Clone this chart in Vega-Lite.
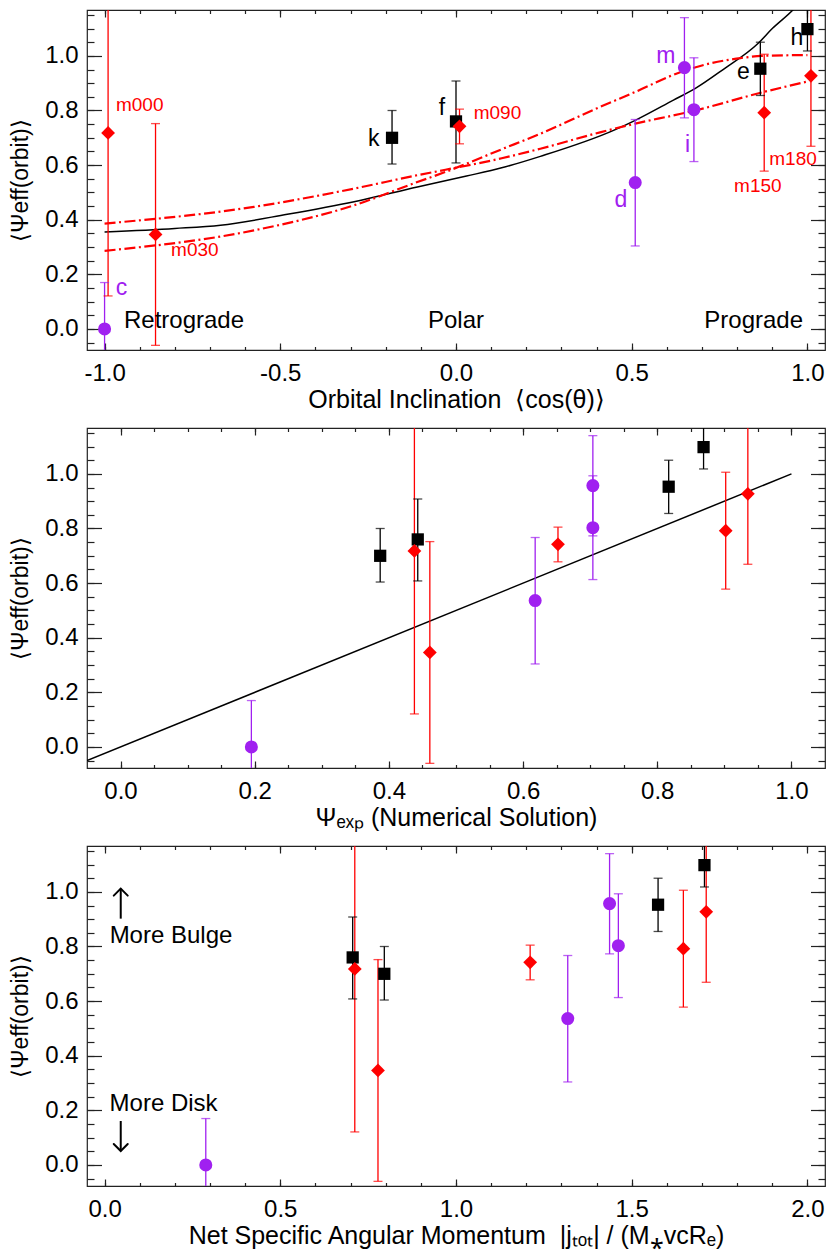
{
  "$schema": "https://vega.github.io/schema/vega-lite/v6.json",
  "padding": {"top": 8, "left": 9, "right": 4, "bottom": 4},
  "bounds": "flush",
  "spacing": 78,
  "config": {
    "font": "Liberation Sans",
    "view": {"stroke": "#222222", "strokeWidth": 1.2},
    "axis": {"domain": false, "grid": false, "labelFont": "Liberation Sans", "labelFontSize": 24, "labelColor": "#000000", "titleFont": "Liberation Sans", "titleFontSize": 23, "titleFontWeight": "normal", "titleColor": "#000000", "tickColor": "#222222", "tickWidth": 1.2, "labelFlush": false, "labelOverlap": false, "labelBound": false},
    "text": {"font": "Liberation Sans"}
  },
  "datasets": {
    "pts": [
      {"name": "k", "group": "A", "cos": -0.182, "psi": 0.70, "lo": 0.604, "hi": 0.80, "psiexp": 0.387, "j": 0.796},
      {"name": "f", "group": "A", "cos": 0.0, "psi": 0.76, "lo": 0.608, "hi": 0.908, "psiexp": 0.443, "j": 0.706},
      {"name": "e", "group": "A", "cos": 0.866, "psi": 0.953, "lo": 0.855, "hi": 1.05, "psiexp": 0.817, "j": 1.575},
      {"name": "h", "group": "A", "cos": 1.0, "psi": 1.098, "lo": 1.018, "hi": 1.18, "psiexp": 0.869, "j": 1.707},
      {"name": "c", "group": "B", "cos": -1.0, "psi": 0.0, "lo": -0.17, "hi": 0.17, "psiexp": 0.195, "j": 0.288},
      {"name": "d", "group": "B", "cos": 0.51, "psi": 0.536, "lo": 0.304, "hi": 0.767, "psiexp": 0.618, "j": 1.318},
      {"name": "m", "group": "B", "cos": 0.65, "psi": 0.957, "lo": 0.773, "hi": 1.14, "psiexp": 0.704, "j": 1.437},
      {"name": "i", "group": "B", "cos": 0.677, "psi": 0.803, "lo": 0.613, "hi": 0.993, "psiexp": 0.704, "j": 1.462},
      {"name": "m000", "group": "C", "cos": -0.99, "psi": 0.718, "lo": 0.121, "hi": 1.315, "psiexp": 0.438, "j": 0.712},
      {"name": "m030", "group": "C", "cos": -0.855, "psi": 0.346, "lo": -0.06, "hi": 0.752, "psiexp": 0.461, "j": 0.778},
      {"name": "m090", "group": "C", "cos": 0.01, "psi": 0.742, "lo": 0.678, "hi": 0.805, "psiexp": 0.652, "j": 1.211},
      {"name": "m150", "group": "C", "cos": 0.877, "psi": 0.792, "lo": 0.578, "hi": 1.006, "psiexp": 0.902, "j": 1.647},
      {"name": "m180", "group": "C", "cos": 1.01, "psi": 0.927, "lo": 0.669, "hi": 1.185, "psiexp": 0.935, "j": 1.712}
    ],
    "curves": [
      {"curve": "model", "x": -1.0, "y": 0.355},
      {"curve": "model", "x": -0.8, "y": 0.368},
      {"curve": "model", "x": -0.67, "y": 0.38},
      {"curve": "model", "x": -0.48, "y": 0.42},
      {"curve": "model", "x": -0.29, "y": 0.466},
      {"curve": "model", "x": -0.11, "y": 0.52},
      {"curve": "model", "x": 0.03, "y": 0.56},
      {"curve": "model", "x": 0.13, "y": 0.59},
      {"curve": "model", "x": 0.24, "y": 0.632},
      {"curve": "model", "x": 0.45, "y": 0.728},
      {"curve": "model", "x": 0.51, "y": 0.764},
      {"curve": "model", "x": 0.62, "y": 0.839},
      {"curve": "model", "x": 0.68, "y": 0.88},
      {"curve": "model", "x": 0.76, "y": 0.95},
      {"curve": "model", "x": 0.86, "y": 1.046},
      {"curve": "model", "x": 0.9, "y": 1.1},
      {"curve": "model", "x": 0.96, "y": 1.17},
      {"curve": "model", "x": 1.0, "y": 1.23},
      {"curve": "fitA", "x": -1.0, "y": 0.386},
      {"curve": "fitA", "x": -0.575, "y": 0.447},
      {"curve": "fitA", "x": -0.29, "y": 0.514},
      {"curve": "fitA", "x": -0.11, "y": 0.563},
      {"curve": "fitA", "x": -0.03, "y": 0.583},
      {"curve": "fitA", "x": 0.13, "y": 0.625},
      {"curve": "fitA", "x": 0.24, "y": 0.66},
      {"curve": "fitA", "x": 0.41, "y": 0.72},
      {"curve": "fitA", "x": 0.51, "y": 0.752},
      {"curve": "fitA", "x": 0.64, "y": 0.788},
      {"curve": "fitA", "x": 0.68, "y": 0.8},
      {"curve": "fitA", "x": 0.87, "y": 0.866},
      {"curve": "fitA", "x": 1.0, "y": 0.906},
      {"curve": "fitB", "x": -1.0, "y": 0.286},
      {"curve": "fitB", "x": -0.575, "y": 0.361},
      {"curve": "fitB", "x": -0.29, "y": 0.453},
      {"curve": "fitB", "x": -0.11, "y": 0.538},
      {"curve": "fitB", "x": -0.03, "y": 0.575},
      {"curve": "fitB", "x": 0.13, "y": 0.658},
      {"curve": "fitB", "x": 0.24, "y": 0.715},
      {"curve": "fitB", "x": 0.41, "y": 0.813},
      {"curve": "fitB", "x": 0.51, "y": 0.868},
      {"curve": "fitB", "x": 0.64, "y": 0.941},
      {"curve": "fitB", "x": 0.7, "y": 0.965},
      {"curve": "fitB", "x": 0.81, "y": 0.992},
      {"curve": "fitB", "x": 0.87, "y": 1.0},
      {"curve": "fitB", "x": 1.0, "y": 1.003}
    ],
    "line2": [{"x": -0.05, "y": -0.05}, {"x": 1.0, "y": 1.0}],
    "labels1": [
      {"label": "k", "group": "A", "x": -0.234, "y": 0.696},
      {"label": "f", "group": "A", "x": -0.04, "y": 0.81},
      {"label": "e", "group": "A", "x": 0.818, "y": 0.94},
      {"label": "h", "group": "A", "x": 0.97, "y": 1.066},
      {"label": "c", "group": "B", "x": -0.952, "y": 0.15},
      {"label": "d", "group": "B", "x": 0.469, "y": 0.474},
      {"label": "m", "group": "B", "x": 0.597, "y": 1.0},
      {"label": "i", "group": "B", "x": 0.659, "y": 0.672},
      {"label": "m000", "group": "C", "x": -0.9, "y": 0.82},
      {"label": "m030", "group": "C", "x": -0.743, "y": 0.289},
      {"label": "m090", "group": "C", "x": 0.118, "y": 0.79},
      {"label": "m150", "group": "C", "x": 0.859, "y": 0.524},
      {"label": "m180", "group": "C", "x": 0.959, "y": 0.623}
    ],
    "regions": [
      {"label": "Retrograde", "x": -0.774, "y": 0.03},
      {"label": "Polar", "x": 0.0, "y": 0.03},
      {"label": "Prograde", "x": 0.847, "y": 0.03}
    ],
    "ann3": [
      {"label": "More Bulge", "x": 0.189, "y": 0.84},
      {"label": "More Disk", "x": 0.168, "y": 0.223}
    ],
    "arrows3": [
      {"dir": "up", "x": 0.046, "from": 0.902, "to": 1.012},
      {"dir": "down", "x": 0.046, "from": 0.161, "to": 0.051}
    ]
  },
  "vconcat": [
    {
      "width": 738, "height": 340,
      "layer": [
        {"data": {"name": "pts"}, "mark": {"type": "point", "opacity": 0},
         "encoding": {
           "x": {"field": "cos", "type": "quantitative", "scale": {"domain": [-1.05, 1.05], "nice": false, "zero": false},
                 "axis": {"orient": "bottom", "values": [-1, -0.5, 0, 0.5, 1], "ticks": false, "labelPadding": 11, "labelExpr": "(datum.value < 0 ? '-' : '') + format(abs(datum.value), '.1f')", "title": "Orbital Inclination \u00a0⟨cos(θ)⟩", "titleFontSize": 25, "titlePadding": 2}},
           "y": {"field": "psi", "type": "quantitative", "scale": {"domain": [-0.077, 1.168], "nice": false, "zero": false},
                 "axis": {"orient": "left", "values": [0, 0.2, 0.4, 0.6, 0.8, 1], "ticks": false, "labelPadding": 9, "labelExpr": "format(datum.value, '.1f')", "title": "⟨Ψeff(orbit)⟩", "titlePadding": 12}}}},
        {"data": {"name": "pts"}, "mark": {"type": "point", "opacity": 0},
         "encoding": {
           "x": {"field": "cos", "type": "quantitative", "scale": {"domain": [-1.05, 1.05], "nice": false, "zero": false},
                 "axis": {"orient": "bottom", "values": [-1, -0.5, 0, 0.5, 1], "labels": false, "tickSize": -7, "title": null}},
           "y": {"field": "psi", "type": "quantitative", "scale": {"domain": [-0.077, 1.168], "nice": false, "zero": false},
                 "axis": {"orient": "left", "values": [0, 0.2, 0.4, 0.6, 0.8, 1], "labels": false, "tickSize": -14.5, "title": null}}}},
        {"data": {"name": "pts"}, "mark": {"type": "point", "opacity": 0},
         "encoding": {
           "x": {"field": "cos", "type": "quantitative", "scale": {"domain": [-1.05, 1.05], "nice": false, "zero": false},
                 "axis": {"orient": "bottom", "values": [-1, -0.9, -0.8, -0.7, -0.6, -0.5, -0.4, -0.3, -0.2, -0.1, 0, 0.1, 0.2, 0.3, 0.4, 0.5, 0.6, 0.7, 0.8, 0.9, 1], "labels": false, "tickSize": -3.5, "title": null}},
           "y": {"field": "psi", "type": "quantitative", "scale": {"domain": [-0.077, 1.168], "nice": false, "zero": false},
                 "axis": {"orient": "left", "values": [-0.05, 0, 0.05, 0.1, 0.15, 0.2, 0.25, 0.3, 0.35, 0.4, 0.45, 0.5, 0.55, 0.6, 0.65, 0.7, 0.75, 0.8, 0.85, 0.9, 0.95, 1, 1.05, 1.1, 1.15], "labels": false, "tickSize": -7, "title": null}}}},
        {"data": {"name": "pts"}, "mark": {"type": "point", "opacity": 0},
         "encoding": {
           "x": {"field": "cos", "type": "quantitative", "scale": {"domain": [-1.05, 1.05], "nice": false, "zero": false},
                 "axis": {"orient": "top", "values": [-1, -0.5, 0, 0.5, 1], "labels": false, "tickSize": -7, "title": null}},
           "y": {"field": "psi", "type": "quantitative", "scale": {"domain": [-0.077, 1.168], "nice": false, "zero": false},
                 "axis": {"orient": "right", "values": [0, 0.2, 0.4, 0.6, 0.8, 1], "labels": false, "tickSize": -14.5, "title": null}}}},
        {"data": {"name": "pts"}, "mark": {"type": "point", "opacity": 0},
         "encoding": {
           "x": {"field": "cos", "type": "quantitative", "scale": {"domain": [-1.05, 1.05], "nice": false, "zero": false},
                 "axis": {"orient": "top", "values": [-1, -0.9, -0.8, -0.7, -0.6, -0.5, -0.4, -0.3, -0.2, -0.1, 0, 0.1, 0.2, 0.3, 0.4, 0.5, 0.6, 0.7, 0.8, 0.9, 1], "labels": false, "tickSize": -3.5, "title": null}},
           "y": {"field": "psi", "type": "quantitative", "scale": {"domain": [-0.077, 1.168], "nice": false, "zero": false},
                 "axis": {"orient": "right", "values": [-0.05, 0, 0.05, 0.1, 0.15, 0.2, 0.25, 0.3, 0.35, 0.4, 0.45, 0.5, 0.55, 0.6, 0.65, 0.7, 0.75, 0.8, 0.85, 0.9, 0.95, 1, 1.05, 1.1, 1.15], "labels": false, "tickSize": -7, "title": null}}}},
        {"data": {"name": "curves"}, "transform": [{"filter": "datum.curve == 'model'"}],
         "mark": {"type": "line", "color": "#000000", "strokeWidth": 1.5, "clip": true, "interpolate": "monotone"},
         "encoding": {
           "x": {"field": "x", "type": "quantitative", "scale": {"domain": [-1.05, 1.05], "nice": false, "zero": false}, "axis": null},
           "y": {"field": "y", "type": "quantitative", "scale": {"domain": [-0.077, 1.168], "nice": false, "zero": false}, "axis": null}}},
        {"data": {"name": "curves"}, "transform": [{"filter": "datum.curve != 'model'"}],
         "mark": {"type": "line", "color": "#FF0000", "strokeWidth": 2.2, "strokeDash": [11, 3.5, 2, 3.5], "clip": true, "interpolate": "monotone"},
         "encoding": {
           "x": {"field": "x", "type": "quantitative", "scale": {"domain": [-1.05, 1.05], "nice": false, "zero": false}, "axis": null},
           "y": {"field": "y", "type": "quantitative", "scale": {"domain": [-0.077, 1.168], "nice": false, "zero": false}, "axis": null},
           "detail": {"field": "curve"}}},
        {"data": {"name": "pts"}, "mark": {"type": "rule", "strokeWidth": 1.3, "clip": true},
         "encoding": {
           "x": {"field": "cos", "type": "quantitative", "scale": {"domain": [-1.05, 1.05], "nice": false, "zero": false}, "axis": null},
           "y": {"field": "lo", "type": "quantitative", "scale": {"domain": [-0.077, 1.168], "nice": false, "zero": false}, "axis": null},
           "y2": {"field": "hi"},
           "color": {"field": "group", "type": "nominal", "scale": {"domain": ["A", "B", "C"], "range": ["#000000", "#A020F0", "#FF0000"]}, "legend": null}}},
        {"data": {"name": "pts"}, "mark": {"type": "tick", "orient": "horizontal", "size": 9, "thickness": 1.3, "clip": true},
         "encoding": {
           "x": {"field": "cos", "type": "quantitative", "scale": {"domain": [-1.05, 1.05], "nice": false, "zero": false}, "axis": null},
           "y": {"field": "lo", "type": "quantitative", "scale": {"domain": [-0.077, 1.168], "nice": false, "zero": false}, "axis": null},
           "color": {"field": "group", "type": "nominal", "legend": null}}},
        {"data": {"name": "pts"}, "mark": {"type": "tick", "orient": "horizontal", "size": 9, "thickness": 1.3, "clip": true},
         "encoding": {
           "x": {"field": "cos", "type": "quantitative", "scale": {"domain": [-1.05, 1.05], "nice": false, "zero": false}, "axis": null},
           "y": {"field": "hi", "type": "quantitative", "scale": {"domain": [-0.077, 1.168], "nice": false, "zero": false}, "axis": null},
           "color": {"field": "group", "type": "nominal", "legend": null}}},
        {"data": {"name": "pts"}, "mark": {"type": "point", "filled": true, "opacity": 1, "strokeWidth": 0},
         "encoding": {
           "x": {"field": "cos", "type": "quantitative", "scale": {"domain": [-1.05, 1.05], "nice": false, "zero": false}, "axis": null},
           "y": {"field": "psi", "type": "quantitative", "scale": {"domain": [-0.077, 1.168], "nice": false, "zero": false}, "axis": null},
           "color": {"field": "group", "type": "nominal", "legend": null},
           "shape": {"field": "group", "type": "nominal", "scale": {"domain": ["A", "B", "C"], "range": ["square", "circle", "diamond"]}, "legend": null},
           "size": {"field": "group", "type": "ordinal", "scale": {"domain": ["A", "B", "C"], "range": [150, 190, 180]}, "legend": null}}},
        {"data": {"name": "labels1"}, "transform": [{"filter": "datum.group != 'C'"}],
         "mark": {"type": "text", "fontSize": 23, "align": "center", "baseline": "middle"},
         "encoding": {
           "x": {"field": "x", "type": "quantitative", "scale": {"domain": [-1.05, 1.05], "nice": false, "zero": false}, "axis": null},
           "y": {"field": "y", "type": "quantitative", "scale": {"domain": [-0.077, 1.168], "nice": false, "zero": false}, "axis": null},
           "text": {"field": "label"},
           "color": {"field": "group", "type": "nominal", "legend": null}}},
        {"data": {"name": "labels1"}, "transform": [{"filter": "datum.group == 'C'"}],
         "mark": {"type": "text", "fontSize": 19, "align": "center", "baseline": "middle"},
         "encoding": {
           "x": {"field": "x", "type": "quantitative", "scale": {"domain": [-1.05, 1.05], "nice": false, "zero": false}, "axis": null},
           "y": {"field": "y", "type": "quantitative", "scale": {"domain": [-0.077, 1.168], "nice": false, "zero": false}, "axis": null},
           "text": {"field": "label"},
           "color": {"field": "group", "type": "nominal", "legend": null}}},
        {"data": {"name": "regions"},
         "mark": {"type": "text", "fontSize": 24, "align": "center", "baseline": "middle", "color": "#000000"},
         "encoding": {
           "x": {"field": "x", "type": "quantitative", "scale": {"domain": [-1.05, 1.05], "nice": false, "zero": false}, "axis": null},
           "y": {"field": "y", "type": "quantitative", "scale": {"domain": [-0.077, 1.168], "nice": false, "zero": false}, "axis": null},
           "text": {"field": "label"}}}
      ],
      "resolve": {"axis": {"x": "independent", "y": "independent"}}
    },
    {
      "width": 738, "height": 340,
      "layer": [
        {"data": {"name": "pts"}, "mark": {"type": "point", "opacity": 0},
         "encoding": {
           "x": {"field": "psiexp", "type": "quantitative", "scale": {"domain": [-0.05, 1.05], "nice": false, "zero": false},
                 "axis": {"orient": "bottom", "values": [0, 0.2, 0.4, 0.6, 0.8, 1], "ticks": false, "labelPadding": 11, "labelExpr": "format(datum.value, '.1f')", "title": "Ψₑₓₚ (Numerical Solution)", "titleFontSize": 25, "titlePadding": 2}},
           "y": {"field": "psi", "type": "quantitative", "scale": {"domain": [-0.077, 1.168], "nice": false, "zero": false},
                 "axis": {"orient": "left", "values": [0, 0.2, 0.4, 0.6, 0.8, 1], "ticks": false, "labelPadding": 9, "labelExpr": "format(datum.value, '.1f')", "title": "⟨Ψeff(orbit)⟩", "titlePadding": 12}}}},
        {"data": {"name": "pts"}, "mark": {"type": "point", "opacity": 0},
         "encoding": {
           "x": {"field": "psiexp", "type": "quantitative", "scale": {"domain": [-0.05, 1.05], "nice": false, "zero": false},
                 "axis": {"orient": "bottom", "values": [0, 0.2, 0.4, 0.6, 0.8, 1], "labels": false, "tickSize": -7, "title": null}},
           "y": {"field": "psi", "type": "quantitative", "scale": {"domain": [-0.077, 1.168], "nice": false, "zero": false},
                 "axis": {"orient": "left", "values": [0, 0.2, 0.4, 0.6, 0.8, 1], "labels": false, "tickSize": -14.5, "title": null}}}},
        {"data": {"name": "pts"}, "mark": {"type": "point", "opacity": 0},
         "encoding": {
           "x": {"field": "psiexp", "type": "quantitative", "scale": {"domain": [-0.05, 1.05], "nice": false, "zero": false},
                 "axis": {"orient": "bottom", "values": [0, 0.05, 0.1, 0.15, 0.2, 0.25, 0.3, 0.35, 0.4, 0.45, 0.5, 0.55, 0.6, 0.65, 0.7, 0.75, 0.8, 0.85, 0.9, 0.95, 1], "labels": false, "tickSize": -3.5, "title": null}},
           "y": {"field": "psi", "type": "quantitative", "scale": {"domain": [-0.077, 1.168], "nice": false, "zero": false},
                 "axis": {"orient": "left", "values": [-0.05, 0, 0.05, 0.1, 0.15, 0.2, 0.25, 0.3, 0.35, 0.4, 0.45, 0.5, 0.55, 0.6, 0.65, 0.7, 0.75, 0.8, 0.85, 0.9, 0.95, 1, 1.05, 1.1, 1.15], "labels": false, "tickSize": -7, "title": null}}}},
        {"data": {"name": "pts"}, "mark": {"type": "point", "opacity": 0},
         "encoding": {
           "x": {"field": "psiexp", "type": "quantitative", "scale": {"domain": [-0.05, 1.05], "nice": false, "zero": false},
                 "axis": {"orient": "top", "values": [0, 0.2, 0.4, 0.6, 0.8, 1], "labels": false, "tickSize": -7, "title": null}},
           "y": {"field": "psi", "type": "quantitative", "scale": {"domain": [-0.077, 1.168], "nice": false, "zero": false},
                 "axis": {"orient": "right", "values": [0, 0.2, 0.4, 0.6, 0.8, 1], "labels": false, "tickSize": -14.5, "title": null}}}},
        {"data": {"name": "pts"}, "mark": {"type": "point", "opacity": 0},
         "encoding": {
           "x": {"field": "psiexp", "type": "quantitative", "scale": {"domain": [-0.05, 1.05], "nice": false, "zero": false},
                 "axis": {"orient": "top", "values": [0, 0.05, 0.1, 0.15, 0.2, 0.25, 0.3, 0.35, 0.4, 0.45, 0.5, 0.55, 0.6, 0.65, 0.7, 0.75, 0.8, 0.85, 0.9, 0.95, 1], "labels": false, "tickSize": -3.5, "title": null}},
           "y": {"field": "psi", "type": "quantitative", "scale": {"domain": [-0.077, 1.168], "nice": false, "zero": false},
                 "axis": {"orient": "right", "values": [-0.05, 0, 0.05, 0.1, 0.15, 0.2, 0.25, 0.3, 0.35, 0.4, 0.45, 0.5, 0.55, 0.6, 0.65, 0.7, 0.75, 0.8, 0.85, 0.9, 0.95, 1, 1.05, 1.1, 1.15], "labels": false, "tickSize": -7, "title": null}}}},
        {"data": {"name": "line2"},
         "mark": {"type": "line", "color": "#000000", "strokeWidth": 1.5, "clip": true},
         "encoding": {
           "x": {"field": "x", "type": "quantitative", "scale": {"domain": [-0.05, 1.05], "nice": false, "zero": false}, "axis": null},
           "y": {"field": "y", "type": "quantitative", "scale": {"domain": [-0.077, 1.168], "nice": false, "zero": false}, "axis": null}}},
        {"data": {"name": "pts"}, "mark": {"type": "rule", "strokeWidth": 1.3, "clip": true},
         "encoding": {
           "x": {"field": "psiexp", "type": "quantitative", "scale": {"domain": [-0.05, 1.05], "nice": false, "zero": false}, "axis": null},
           "y": {"field": "lo", "type": "quantitative", "scale": {"domain": [-0.077, 1.168], "nice": false, "zero": false}, "axis": null},
           "y2": {"field": "hi"},
           "color": {"field": "group", "type": "nominal", "legend": null}}},
        {"data": {"name": "pts"}, "mark": {"type": "tick", "orient": "horizontal", "size": 9, "thickness": 1.3, "clip": true},
         "encoding": {
           "x": {"field": "psiexp", "type": "quantitative", "scale": {"domain": [-0.05, 1.05], "nice": false, "zero": false}, "axis": null},
           "y": {"field": "lo", "type": "quantitative", "scale": {"domain": [-0.077, 1.168], "nice": false, "zero": false}, "axis": null},
           "color": {"field": "group", "type": "nominal", "legend": null}}},
        {"data": {"name": "pts"}, "mark": {"type": "tick", "orient": "horizontal", "size": 9, "thickness": 1.3, "clip": true},
         "encoding": {
           "x": {"field": "psiexp", "type": "quantitative", "scale": {"domain": [-0.05, 1.05], "nice": false, "zero": false}, "axis": null},
           "y": {"field": "hi", "type": "quantitative", "scale": {"domain": [-0.077, 1.168], "nice": false, "zero": false}, "axis": null},
           "color": {"field": "group", "type": "nominal", "legend": null}}},
        {"data": {"name": "pts"}, "mark": {"type": "point", "filled": true, "opacity": 1, "strokeWidth": 0},
         "encoding": {
           "x": {"field": "psiexp", "type": "quantitative", "scale": {"domain": [-0.05, 1.05], "nice": false, "zero": false}, "axis": null},
           "y": {"field": "psi", "type": "quantitative", "scale": {"domain": [-0.077, 1.168], "nice": false, "zero": false}, "axis": null},
           "color": {"field": "group", "type": "nominal", "legend": null},
           "shape": {"field": "group", "type": "nominal", "legend": null},
           "size": {"field": "group", "type": "ordinal", "legend": null}}}
      ],
      "resolve": {"axis": {"x": "independent", "y": "independent"}}
    },
    {
      "width": 738, "height": 340,
      "layer": [
        {"data": {"name": "pts"}, "mark": {"type": "point", "opacity": 0},
         "encoding": {
           "x": {"field": "j", "type": "quantitative", "scale": {"domain": [-0.05, 2.05], "nice": false, "zero": false},
                 "axis": {"orient": "bottom", "values": [0, 0.5, 1, 1.5, 2], "ticks": false, "labelPadding": 11, "labelExpr": "format(datum.value, '.1f')", "title": "Net Specific Angular Momentum \u00a0|jₜₒₜ| / (M⁎vcRₑ)", "titleFontSize": 25, "titlePadding": 2}},
           "y": {"field": "psi", "type": "quantitative", "scale": {"domain": [-0.077, 1.168], "nice": false, "zero": false},
                 "axis": {"orient": "left", "values": [0, 0.2, 0.4, 0.6, 0.8, 1], "ticks": false, "labelPadding": 9, "labelExpr": "format(datum.value, '.1f')", "title": "⟨Ψeff(orbit)⟩", "titlePadding": 12}}}},
        {"data": {"name": "pts"}, "mark": {"type": "point", "opacity": 0},
         "encoding": {
           "x": {"field": "j", "type": "quantitative", "scale": {"domain": [-0.05, 2.05], "nice": false, "zero": false},
                 "axis": {"orient": "bottom", "values": [0, 0.5, 1, 1.5, 2], "labels": false, "tickSize": -7, "title": null}},
           "y": {"field": "psi", "type": "quantitative", "scale": {"domain": [-0.077, 1.168], "nice": false, "zero": false},
                 "axis": {"orient": "left", "values": [0, 0.2, 0.4, 0.6, 0.8, 1], "labels": false, "tickSize": -14.5, "title": null}}}},
        {"data": {"name": "pts"}, "mark": {"type": "point", "opacity": 0},
         "encoding": {
           "x": {"field": "j", "type": "quantitative", "scale": {"domain": [-0.05, 2.05], "nice": false, "zero": false},
                 "axis": {"orient": "bottom", "values": [0, 0.1, 0.2, 0.3, 0.4, 0.5, 0.6, 0.7, 0.8, 0.9, 1, 1.1, 1.2, 1.3, 1.4, 1.5, 1.6, 1.7, 1.8, 1.9, 2], "labels": false, "tickSize": -3.5, "title": null}},
           "y": {"field": "psi", "type": "quantitative", "scale": {"domain": [-0.077, 1.168], "nice": false, "zero": false},
                 "axis": {"orient": "left", "values": [-0.05, 0, 0.05, 0.1, 0.15, 0.2, 0.25, 0.3, 0.35, 0.4, 0.45, 0.5, 0.55, 0.6, 0.65, 0.7, 0.75, 0.8, 0.85, 0.9, 0.95, 1, 1.05, 1.1, 1.15], "labels": false, "tickSize": -7, "title": null}}}},
        {"data": {"name": "pts"}, "mark": {"type": "point", "opacity": 0},
         "encoding": {
           "x": {"field": "j", "type": "quantitative", "scale": {"domain": [-0.05, 2.05], "nice": false, "zero": false},
                 "axis": {"orient": "top", "values": [0, 0.5, 1, 1.5, 2], "labels": false, "tickSize": -7, "title": null}},
           "y": {"field": "psi", "type": "quantitative", "scale": {"domain": [-0.077, 1.168], "nice": false, "zero": false},
                 "axis": {"orient": "right", "values": [0, 0.2, 0.4, 0.6, 0.8, 1], "labels": false, "tickSize": -14.5, "title": null}}}},
        {"data": {"name": "pts"}, "mark": {"type": "point", "opacity": 0},
         "encoding": {
           "x": {"field": "j", "type": "quantitative", "scale": {"domain": [-0.05, 2.05], "nice": false, "zero": false},
                 "axis": {"orient": "top", "values": [0, 0.1, 0.2, 0.3, 0.4, 0.5, 0.6, 0.7, 0.8, 0.9, 1, 1.1, 1.2, 1.3, 1.4, 1.5, 1.6, 1.7, 1.8, 1.9, 2], "labels": false, "tickSize": -3.5, "title": null}},
           "y": {"field": "psi", "type": "quantitative", "scale": {"domain": [-0.077, 1.168], "nice": false, "zero": false},
                 "axis": {"orient": "right", "values": [-0.05, 0, 0.05, 0.1, 0.15, 0.2, 0.25, 0.3, 0.35, 0.4, 0.45, 0.5, 0.55, 0.6, 0.65, 0.7, 0.75, 0.8, 0.85, 0.9, 0.95, 1, 1.05, 1.1, 1.15], "labels": false, "tickSize": -7, "title": null}}}},
        {"data": {"name": "pts"}, "mark": {"type": "rule", "strokeWidth": 1.3, "clip": true},
         "encoding": {
           "x": {"field": "j", "type": "quantitative", "scale": {"domain": [-0.05, 2.05], "nice": false, "zero": false}, "axis": null},
           "y": {"field": "lo", "type": "quantitative", "scale": {"domain": [-0.077, 1.168], "nice": false, "zero": false}, "axis": null},
           "y2": {"field": "hi"},
           "color": {"field": "group", "type": "nominal", "legend": null}}},
        {"data": {"name": "pts"}, "mark": {"type": "tick", "orient": "horizontal", "size": 9, "thickness": 1.3, "clip": true},
         "encoding": {
           "x": {"field": "j", "type": "quantitative", "scale": {"domain": [-0.05, 2.05], "nice": false, "zero": false}, "axis": null},
           "y": {"field": "lo", "type": "quantitative", "scale": {"domain": [-0.077, 1.168], "nice": false, "zero": false}, "axis": null},
           "color": {"field": "group", "type": "nominal", "legend": null}}},
        {"data": {"name": "pts"}, "mark": {"type": "tick", "orient": "horizontal", "size": 9, "thickness": 1.3, "clip": true},
         "encoding": {
           "x": {"field": "j", "type": "quantitative", "scale": {"domain": [-0.05, 2.05], "nice": false, "zero": false}, "axis": null},
           "y": {"field": "hi", "type": "quantitative", "scale": {"domain": [-0.077, 1.168], "nice": false, "zero": false}, "axis": null},
           "color": {"field": "group", "type": "nominal", "legend": null}}},
        {"data": {"name": "pts"}, "mark": {"type": "point", "filled": true, "opacity": 1, "strokeWidth": 0},
         "encoding": {
           "x": {"field": "j", "type": "quantitative", "scale": {"domain": [-0.05, 2.05], "nice": false, "zero": false}, "axis": null},
           "y": {"field": "psi", "type": "quantitative", "scale": {"domain": [-0.077, 1.168], "nice": false, "zero": false}, "axis": null},
           "color": {"field": "group", "type": "nominal", "legend": null},
           "shape": {"field": "group", "type": "nominal", "legend": null},
           "size": {"field": "group", "type": "ordinal", "legend": null}}},
        {"data": {"name": "ann3"},
         "mark": {"type": "text", "fontSize": 24, "align": "center", "baseline": "middle", "color": "#000000"},
         "encoding": {
           "x": {"field": "x", "type": "quantitative", "scale": {"domain": [-0.05, 2.05], "nice": false, "zero": false}, "axis": null},
           "y": {"field": "y", "type": "quantitative", "scale": {"domain": [-0.077, 1.168], "nice": false, "zero": false}, "axis": null},
           "text": {"field": "label"}}},
        {"data": {"name": "arrows3"},
         "mark": {"type": "rule", "color": "#000000", "strokeWidth": 2},
         "encoding": {
           "x": {"field": "x", "type": "quantitative", "scale": {"domain": [-0.05, 2.05], "nice": false, "zero": false}, "axis": null},
           "y": {"field": "from", "type": "quantitative", "scale": {"domain": [-0.077, 1.168], "nice": false, "zero": false}, "axis": null},
           "y2": {"field": "to"}}},
        {"data": {"name": "arrows3"}, "transform": [{"filter": "datum.dir == 'up'"}],
         "mark": {"type": "point", "shape": "M-1,1L0,0L1,1", "filled": false, "stroke": "#000000", "strokeWidth": 2, "opacity": 1, "size": 196, "strokeCap": "round"},
         "encoding": {
           "x": {"field": "x", "type": "quantitative", "scale": {"domain": [-0.05, 2.05], "nice": false, "zero": false}, "axis": null},
           "y": {"field": "to", "type": "quantitative", "scale": {"domain": [-0.077, 1.168], "nice": false, "zero": false}, "axis": null}}},
        {"data": {"name": "arrows3"}, "transform": [{"filter": "datum.dir == 'down'"}],
         "mark": {"type": "point", "shape": "M-1,-1L0,0L1,-1", "filled": false, "stroke": "#000000", "strokeWidth": 2, "opacity": 1, "size": 196, "strokeCap": "round"},
         "encoding": {
           "x": {"field": "x", "type": "quantitative", "scale": {"domain": [-0.05, 2.05], "nice": false, "zero": false}, "axis": null},
           "y": {"field": "to", "type": "quantitative", "scale": {"domain": [-0.077, 1.168], "nice": false, "zero": false}, "axis": null}}}
      ],
      "resolve": {"axis": {"x": "independent", "y": "independent"}}
    }
  ]
}
